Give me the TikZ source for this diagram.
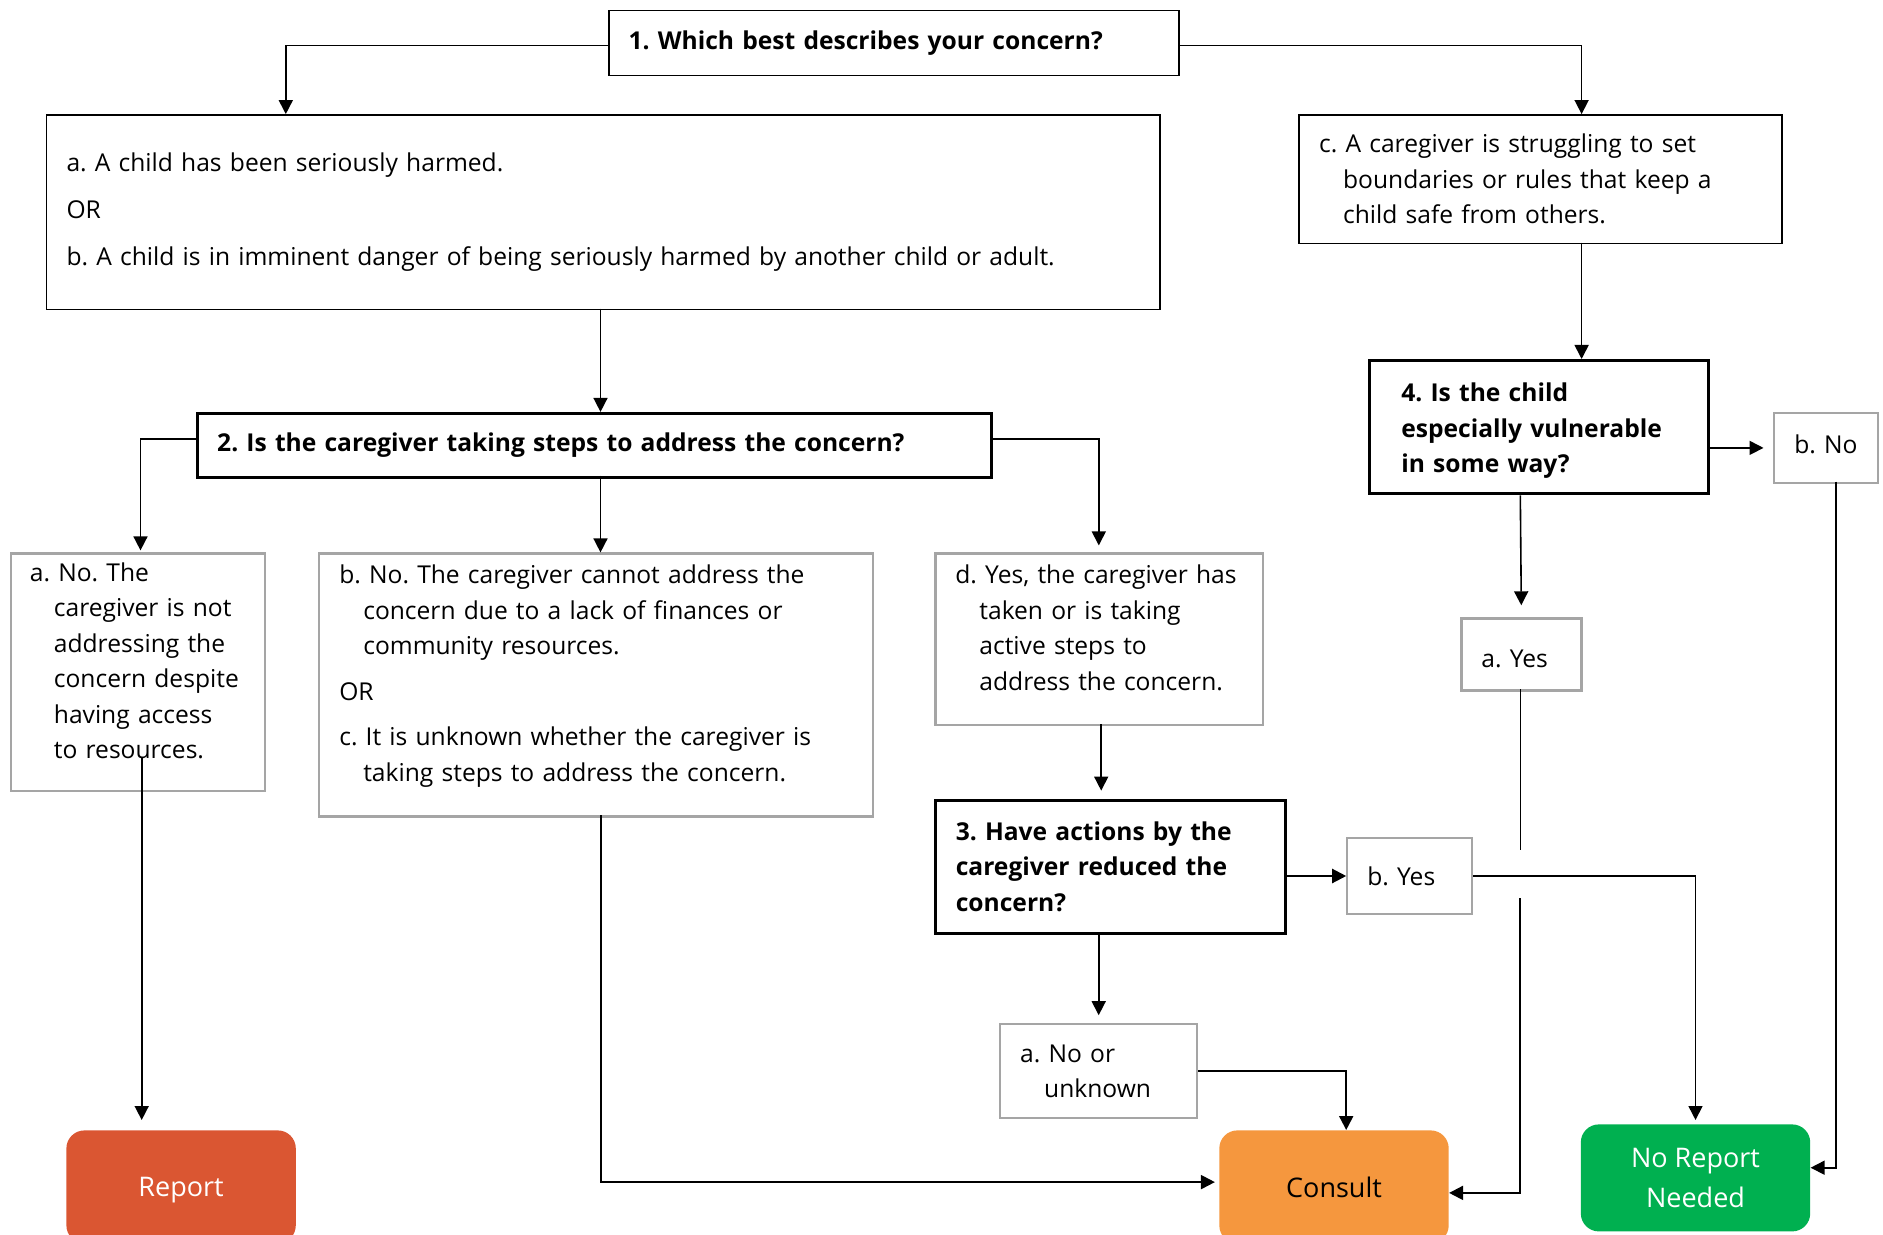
\documentclass[tikz,border=0pt]{standalone}
\usepackage{fontspec}
\setmainfont{Open Sans}
\usetikzlibrary{arrows.meta}
\frenchspacing

\definecolor{framegray}{RGB}{165,165,165}
\definecolor{reportred}{RGB}{218,86,50}
\definecolor{consultorange}{RGB}{245,151,62}
\definecolor{noreportgreen}{RGB}{0,176,80}

\tikzset{
  txt/.style={font=\fontsize{12.3}{17.75}\selectfont},
  qbox/.style={draw=black, line width=0.9pt, anchor=north west, align=left, inner xsep=10pt, inner ysep=0pt, txt},
  qthick/.style={qbox, line width=1.5pt, font=\fontsize{12.3}{17.75}\selectfont\bfseries},
  abox/.style={draw=framegray, line width=1.1pt, anchor=north west, align=left, inner xsep=10pt, inner ysep=0pt, txt},
  outcome/.style={anchor=north west, rounded corners=9pt, inner sep=0pt, align=center,
    font=\fontsize{13.5}{19.8}\selectfont},
  conn/.style={draw=black, line width=0.8pt, -{Triangle[length=7pt,width=7pt]}},
  line/.style={draw=black, line width=0.8pt},
}

\begin{document}
\begin{tikzpicture}[x=0.5pt,y=-0.5pt]
\useasboundingbox (0,0) rectangle (1883,1235);
\clip (0,0) rectangle (1883,1235);

% question boxes
\node[qbox, text width=265.2pt, minimum height=32.5pt, font=\fontsize{12.3}{17.75}\selectfont\bfseries] (q1) at (607.7,9.6)
  {1. Which best describes your concern?};

\node[qbox, text width=536.7pt, minimum height=97.3pt] (harm) at (45.6,114.1)
  {a. A child has been seriously harmed.\\[5.6pt]
   OR\\[5.6pt]
   b. A child is in imminent danger of being seriously harmed by another child or adult.};

\node[qbox, text width=221.4pt, minimum height=64.3pt] (bound) at (1298.2,114.1)
  {c. A caregiver is struggling to set\\
   \hspace*{12pt}boundaries or rules that keep a\\
   \hspace*{12pt}child safe from others.};

\node[qthick, text width=376.9pt, minimum height=31.9pt] (q2) at (195.7,411.9)
  {2. Is the caregiver taking steps to address the concern?};

\node[qthick, inner xsep=16pt, text width=137.4pt, minimum height=66.7pt] (q4) at (1367.8,359)
  {\mbox{}\\[-4.5pt]4. Is the child\\especially vulnerable\\in some way?};

\node[abox, inner xsep=0pt, align=center, text width=52.3pt, minimum height=34.8pt] (no4) at (1772.5,412)
  {b. No\\[-14pt]\mbox{}};

% answers to question 2
\node[abox, inner xsep=9.6pt, text width=108.1pt, minimum height=118.9pt] (notaddr) at (9.6,552.4)
  {a. No. The\\
   \hspace*{12pt}caregiver is not\\
   \hspace*{12pt}addressing the\\
   \hspace*{12pt}concern despite\\
   \hspace*{12pt}having access\\
   \hspace*{12pt}to resources.\\[-6pt]\mbox{}};

\node[abox, text width=256.9pt, minimum height=131.5pt] (cannot) at (318.2,552.4)
  {b. No. The caregiver cannot address the\\
   \hspace*{12pt}concern due to a lack of finances or\\
   \hspace*{12pt}community resources.\\[5pt]
   OR\\[5pt]
   c. It is unknown whether the caregiver is\\
   \hspace*{12pt}taking steps to address the concern.\\[-6pt]\mbox{}};

\node[abox, text width=143.9pt, minimum height=85.9pt] (active) at (934.3,552.4)
  {d. Yes, the caregiver has\\
   \hspace*{12pt}taken or is taking\\
   \hspace*{12pt}active steps to\\
   \hspace*{12pt}address the concern.\\[-6pt]\mbox{}};

\node[qthick, text width=154.8pt, minimum height=66.7pt] (q3) at (934.3,798.6)
  {3. Have actions by the\\caregiver reduced the\\concern?};

\node[abox, text width=42.5pt, minimum height=37.9pt] (yes3) at (1346.2,837)
  {b. Yes};

\node[abox, text width=78.5pt, minimum height=46.8pt] (nounk) at (999.1,1023.2)
  {a. No or\\\hspace*{12pt}unknown};

\node[abox, text width=40pt, minimum height=36pt] (yes4) at (1460.3,617.3)
  {\mbox{}\\[-4pt]a. Yes};

% outcomes
\node[outcome, fill=reportred, text=white, text depth=0pt, minimum width=114.7pt, minimum height=56.5pt] (report) at (66,1130)
  {Report};
\node[outcome, fill=consultorange, text=black, minimum width=114.7pt, minimum height=56.5pt] (consult) at (1218.9,1130)
  {Consult};
\node[outcome, fill=noreportgreen, text=white, minimum width=114.7pt, minimum height=53.5pt] (noreport) at (1580.4,1124)
  {No Report\\Needed};

% bend points of the connectors
\coordinate (k1) at (285.8,114.1);
\coordinate (k2) at (1581.6,114.1);
\coordinate (k3a) at (600.5,308.6);
\coordinate (k3b) at (600.5,411.9);
\coordinate (k4a) at (1581.6,242.6);
\coordinate (k4b) at (1581.6,359);
\coordinate (k6) at (140.5,552.4);
\coordinate (k7a) at (600.5,475.6);
\coordinate (k7b) at (600.5,552.4);
\coordinate (k8) at (1098.8,552.4);
\coordinate (k9) at (1101.2,724.1);
\coordinate (k13) at (1346.2,1130);
\coordinate (k14a) at (141.7,757.8);
\coordinate (k14b) at (141.7,1130);
\coordinate (k15) at (600.5,815.4);
\coordinate (k16a) at (1520.3,689.3);
\coordinate (k16b) at (1520.3,850.2);
\coordinate (k16c) at (1520.3,898.3);
\coordinate (k18) at (1836.2,481.6);

% connectors
\draw[conn] ([yshift=-1.2pt]q1.west) -| (k1);
\draw[conn] ([yshift=-1.2pt]q1.east) -| (k2);
\draw[conn] (k3a) -- (k3b);
\draw[conn] (k4a) -- (k4b);
\draw[conn, shorten >=4.5pt] (q4.east |- no4.west) -- (no4.west);
\draw[conn, shorten >=1pt] ([yshift=3.3pt]q2.west) -| (k6);
\draw[conn] (k7a) -- (k7b);
\draw[conn, shorten >=3.5pt] ([yshift=3.3pt]q2.east) -| (k8);
\draw[conn, shorten >=4pt] (k9) -- (k9 |- q3.north);
\draw[conn, line width=1.1pt] (q3.east |- yes3.west) -- (yes3.west);
\draw[conn, shorten >=2pt] (yes3.east) -| (noreport.north);
\draw[conn, shorten >=4pt] (nounk.north |- q3.south) -- (nounk.north);
\draw[conn, line width=1pt] (nounk.east) -| (k13);
\draw[conn, shorten >=5pt] (k14a) -- (k14b);
\draw[conn, line width=1pt, shorten >=2pt] (k15) |- ([yshift=2.4pt]consult.west);
\draw[conn, shorten >=6pt] (q4.south -| k16a) -- (yes4.north);
\draw[line] (k16a) -- (k16b);
\draw[conn, line width=1pt] (k16c) |- ([yshift=-3pt]consult.east);
\draw[conn] (k18) |- ([yshift=5.1pt]noreport.east);
\end{tikzpicture}
\end{document}
